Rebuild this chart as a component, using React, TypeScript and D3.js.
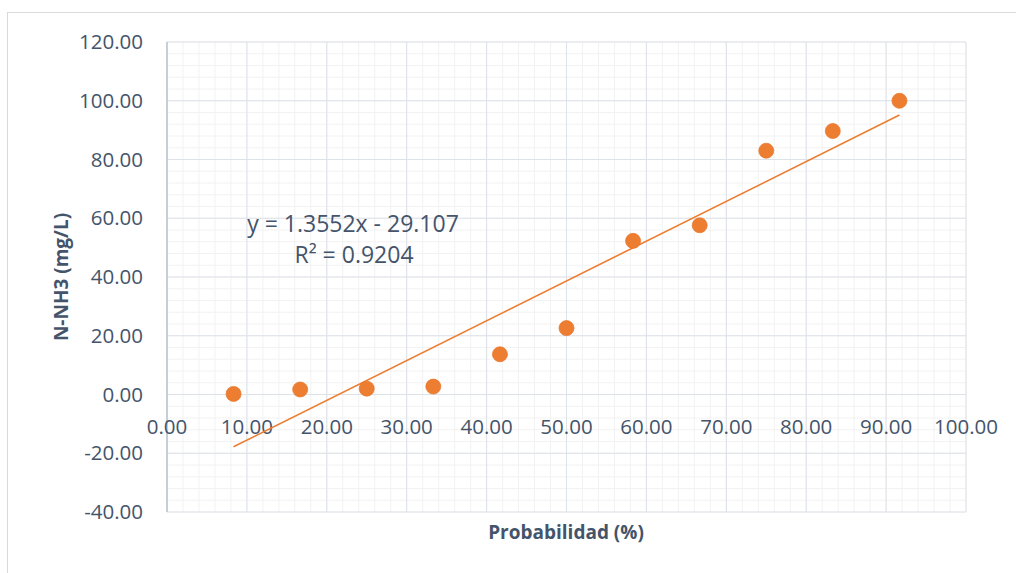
import React from 'react'
import * as d3 from 'd3'

const probabilidad = [8.33, 16.67, 25.0, 33.33, 41.67, 50.0, 58.33, 66.67, 75.0, 83.33, 91.67]
const nh3 = [0.2, 1.7, 2.0, 2.7, 13.7, 22.6, 52.3, 57.6, 83.0, 89.7, 100.0]
const xTicks = [0, 10, 20, 30, 40, 50, 60, 70, 80, 90, 100]
const yTicks = [-40, -20, 0, 20, 40, 60, 80, 100, 120]
const slope = 1.3552
const intercept = -29.107

const font = '"Open Sans", sans-serif'
const textColor = '#44546a'
const orange = '#ed7d31'

// excel style: plain hyphen for negatives
const fmt = (v: number) => d3.format('.2f')(v).replace('\u2212', '-')

function App() {
  const width = 1016
  const height = 573
  const margin = { top: 42, right: 50, bottom: 61, left: 167 }

  const x = d3.scaleLinear().domain([0, 100]).range([margin.left, width - margin.right])
  const y = d3.scaleLinear().domain([-40, 120]).range([height - margin.bottom, margin.top])

  const xMinor = d3.range(0, 100.01, 2)
  const yMinor = d3.range(-40, 120.01, 4)

  const x0 = d3.min(probabilidad) as number
  const x1 = d3.max(probabilidad) as number
  const trend = d3.line<number>().x(d => x(d)).y(d => y(slope * d + intercept))([x0, x1])

  return (
    <svg width={width} height={height} style={{ position: 'absolute', left: 0, top: 0 }}>
      <rect x={0} y={0} width={width} height={height} fill="#fff" />
      <rect x={7.5} y={12.5} width={width + 10} height={height + 10} fill="none" stroke="#d9d9d9" />
      <g>
        {xMinor.map(v => (
          <line key={'xm' + v} x1={x(v)} x2={x(v)} y1={y(-40)} y2={y(120)} stroke="#f2f2f2" strokeWidth={1} />
        ))}
        {yMinor.map(v => (
          <line key={'ym' + v} x1={x(0)} x2={x(100)} y1={y(v)} y2={y(v)} stroke="#f2f2f2" strokeWidth={1} />
        ))}
        {xTicks.map(v => (
          <line key={'xg' + v} x1={x(v)} x2={x(v)} y1={y(-40)} y2={y(120)} stroke="#dde1e8" strokeWidth={1} />
        ))}
        {yTicks.map(v => (
          <line key={'yg' + v} x1={x(0)} x2={x(100)} y1={y(v)} y2={y(v)} stroke="#dde1e8" strokeWidth={1} />
        ))}
        <line x1={x(0)} x2={x(0)} y1={y(-40)} y2={y(120)} stroke="#bcc3d0" strokeWidth={1.5} />
      </g>

      <g fontFamily={font} fontSize={20.5} fill={textColor}>
        {yTicks.map(v => (
          <text key={'yt' + v} x={143} y={y(v)} dy="0.35em" textAnchor="end">
            {fmt(v)}
          </text>
        ))}
        {xTicks.map(v => (
          <text key={'xt' + v} x={x(v)} y={y(0) + 32} dy="0.35em" textAnchor="middle">
            {fmt(v)}
          </text>
        ))}
      </g>

      <path d={trend ?? ''} stroke={orange} strokeWidth={1.6} fill="none" />

      {probabilidad.map((p, i) => (
        <circle key={i} cx={x(p)} cy={y(nh3[i])} r={7.5} fill={orange} stroke="#e8772b" strokeWidth={0.75} />
      ))}

      <g fontFamily={font} fontSize={23} fill={textColor} textAnchor="middle">
        <text x={353} y={224} dy="0.35em">y = 1.3552x - 29.107</text>
        <text x={354} y={255} dy="0.35em">R² = 0.9204</text>
      </g>

      <text x={566} y={532} dy="0.35em" textAnchor="middle" fontFamily={font} fontSize={19} fontWeight="bold" fill={textColor}>
        Probabilidad (%)
      </text>
      <text
        transform={`translate(61,${(y(-40) + y(120)) / 2}) rotate(-90)`}
        dy="0.35em"
        textAnchor="middle"
        fontFamily={font}
        fontSize={19}
        fontWeight="bold"
        fill={textColor}
      >
        N-NH3 (mg/L)
      </text>
    </svg>
  )
}

export default App
